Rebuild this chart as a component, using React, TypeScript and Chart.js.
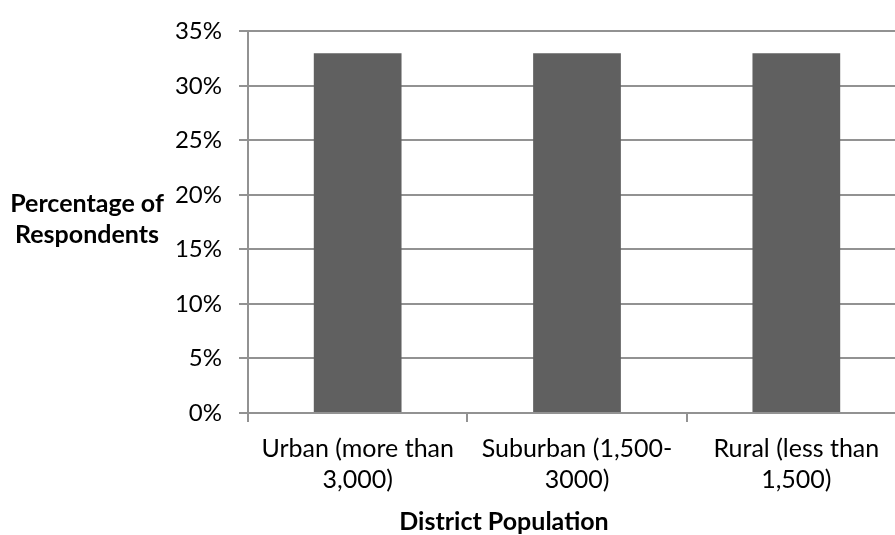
import React, { useEffect, useRef } from "react";
import { Chart, registerables } from "chart.js";

Chart.register(...registerables);

// District population categories (two-line tick labels)
const categories: string[][] = [
  ["Urban (more than", "3,000)"],
  ["Suburban (1,500-", "3000)"],
  ["Rural (less than", "1,500)"],
];

// Share of respondents in each category, in percent
const respondentShare: number[] = [33, 33, 33];

// Y axis range and step, in percent
const yMin = 0;
const yMax = 35;
const yStep = 5;

const yTitleLines: string[] = ["Percentage of", "Respondents"];
const xTitle = "District Population";

const FONT = "Lato, 'Open Sans', sans-serif";
const GRID = "#929292";

// Draws the horizontal y-axis caption and the x-axis caption
const axisCaptions = {
  id: "axisCaptions",
  afterDraw(chart: Chart) {
    const ctx = chart.ctx;
    ctx.save();
    ctx.fillStyle = "#000000";
    ctx.font = `bold 25px ${FONT}`;
    ctx.textAlign = "center";
    ctx.textBaseline = "alphabetic";
    ctx.fillText(yTitleLines[0], 87, 212);
    ctx.fillText(yTitleLines[1], 87, 243);
    ctx.fillText(xTitle, 504, 530);
    ctx.restore();
  },
};

export default function App() {
  const canvasRef = useRef<HTMLCanvasElement | null>(null);

  useEffect(() => {
    const canvas = canvasRef.current;
    if (!canvas) return;
    const chart = new Chart(canvas, {
      type: "bar",
      data: {
        labels: categories,
        datasets: [
          {
            data: respondentShare,
            backgroundColor: "#606060",
            borderWidth: 0,
            categoryPercentage: 1,
            barPercentage: 0.4,
          },
        ],
      },
      options: {
        responsive: false,
        animation: false,
        devicePixelRatio: 1,
        layout: { padding: { top: 24, left: 0, right: 0, bottom: 0 } },
        plugins: {
          legend: { display: false },
          tooltip: { enabled: false },
        },
        scales: {
          x: {
            offset: true,
            afterFit(scale: any) {
              scale.height = 122;
            },
            grid: {
              offset: true,
              drawOnChartArea: false,
              drawTicks: true,
              tickLength: 9,
              color: GRID,
              lineWidth: 2,
            },
            border: { display: true, color: GRID, width: 2 },
            ticks: {
              color: "#000000",
              padding: 11,
              maxRotation: 0,
              autoSkip: false,
              font: { family: FONT, size: 25, lineHeight: 1.26 },
            },
          },
          y: {
            min: yMin,
            max: yMax,
            afterFit(scale: any) {
              scale.width = 248;
            },
            grid: {
              color: GRID,
              lineWidth: 2,
              tickLength: 9,
            },
            border: { display: true, color: GRID, width: 2 },
            ticks: {
              stepSize: yStep,
              color: "#000000",
              padding: 17,
              font: { family: FONT, size: 24 },
              callback: (v: any) => `${v}%`,
            },
          },
        },
      },
      plugins: [axisCaptions],
    });
    return () => chart.destroy();
  }, []);

  return (
    <div
      style={{
        position: "absolute",
        left: 0,
        top: 0,
        width: 895,
        height: 535,
        overflow: "hidden",
        background: "#ffffff",
      }}
    >
      <canvas
        ref={canvasRef}
        width={906}
        height={535}
        style={{ display: "block", width: 906, height: 535 }}
      />
    </div>
  );
}
